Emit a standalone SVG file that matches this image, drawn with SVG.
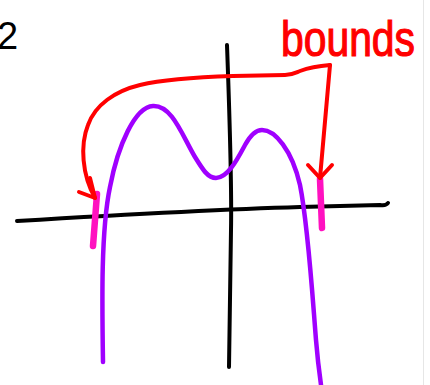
<svg xmlns="http://www.w3.org/2000/svg" width="430" height="385" viewBox="0 0 430 385">
<style>
.ln{fill:none;stroke-linecap:round;stroke-linejoin:round}
.axis{stroke:#000;stroke-width:4}
.red{stroke:#ff0000;stroke-width:4}
.pink{stroke:#ff11c0;stroke-width:6.5}
.curve{stroke:#a000ff;stroke-width:4.5}
</style>
<rect width="430" height="385" fill="#fff"/>
<line x1="423.5" y1="0" x2="423.5" y2="385" stroke="#e6e6e6" stroke-width="1"/>
<text x="-3" y="49" font-family="Liberation Sans, sans-serif" font-size="38" fill="#000">2</text>
<g id="axes">
<path class="ln axis" d="M17,221 C100,216 230,209 300,207 L380,205 Q386,206 388,203"/>
<path class="ln axis" d="M227,45 C229,100 232,180 231,230 C230,300 229,340 229,367"/>
</g>
<g id="curve">
<path class="ln curve" d="M103,362 C102,300 101,230 110,187 C118,145 135,107 153,106 C172,105 182,135 195,157 C203,170 208,178 216,178 C228,178 238,158 245,145 C250,136 255,130 262,130 C275,130 292,150 300,185 C308,225 312,290 316,340 C318,365 320,378 322,392"/>
</g>
<g id="bounds-marks">
<path class="ln pink" d="M97,194 L93,246"/>
<path class="ln pink" d="M320,179 L322,228"/>
</g>
<g id="label">
<text x="281" y="56" font-family="Liberation Sans, sans-serif" font-size="50" fill="#ff0000" stroke="#ff0000" stroke-width="1.2" textLength="134" lengthAdjust="spacingAndGlyphs">bounds</text>
</g>
<g id="connectors">
<path class="ln red" d="M330,65 C318,66 308,68 300,71 C295,73 292,75 285,75 L233,76 C200,77 165,79 140,85 C115,91 95,105 88,125 C80,145 82,175 95,198"/>
<path class="ln red" d="M79,192 L95,198 M90,178 L95,198"/>
<path class="ln red" d="M330,65 L320,178"/>
<path class="ln red" d="M308,165 L320,178 L332,165"/>
</g>
</svg>
